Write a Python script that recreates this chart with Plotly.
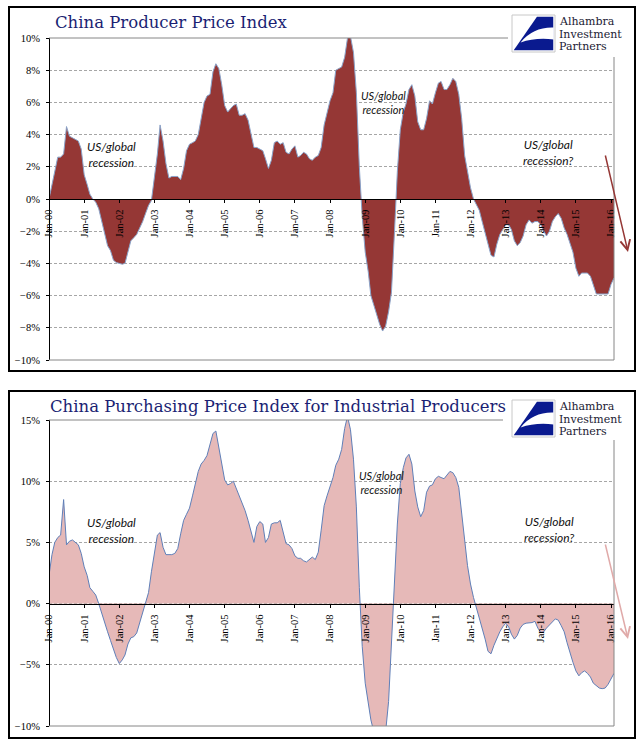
import pandas as pd
import plotly.graph_objects as go

# ---------------- data ----------------
dates = pd.date_range("2000-01-01", periods=194, freq="MS")

ppi_yoy = [
    0.0, 0.9, 1.8, 2.6, 2.6, 2.8, 4.5, 3.9, 3.8, 3.7, 3.6, 3.1,          # 2000
    1.5, 0.9, 0.3, 0.0, -0.2, -0.6, -1.4, -2.2, -2.9, -3.2, -3.8, -3.95,  # 2001
    -4.0, -4.05, -4.0, -3.3, -2.6, -2.4, -2.2, -1.8, -1.4, -0.9, -0.4, -0.1,  # 2002
    1.2, 2.8, 4.6, 3.6, 2.2, 1.3, 1.4, 1.4, 1.4, 1.2, 1.9, 3.0,          # 2003
    3.4, 3.5, 3.6, 4.0, 5.0, 6.0, 6.4, 6.5, 7.9, 8.4, 8.1, 7.1,          # 2004
    5.8, 5.4, 5.6, 5.8, 5.9, 5.2, 5.2, 5.3, 4.9, 4.0, 3.2, 3.2,          # 2005
    3.1, 3.0, 2.5, 1.9, 2.4, 3.5, 3.6, 3.4, 3.5, 2.9, 2.8, 3.1,          # 2006
    3.3, 2.6, 2.7, 2.9, 2.8, 2.5, 2.4, 2.6, 2.7, 3.2, 4.6, 5.4,          # 2007
    6.1, 6.6, 8.0, 8.1, 8.2, 8.8, 10.0, 10.1, 9.1, 6.6, 2.0, -1.1,       # 2008
    -3.3, -4.5, -6.0, -6.6, -7.2, -7.8, -8.2, -7.9, -7.0, -5.8, -2.1, 1.7,  # 2009
    4.3, 5.4, 5.9, 6.8, 7.1, 6.4, 4.8, 4.3, 4.3, 5.0, 6.1, 5.9,          # 2010
    6.6, 7.2, 7.3, 6.8, 6.8, 7.1, 7.5, 7.3, 6.5, 5.0, 2.7, 1.7,          # 2011
    0.7, 0.0, -0.3, -0.7, -1.4, -2.1, -2.9, -3.5, -3.6, -2.8, -2.2, -1.9,  # 2012
    -1.6, -1.6, -1.9, -2.6, -2.9, -2.7, -2.3, -1.6, -1.3, -1.5, -1.4, -1.4,  # 2013
    -1.6, -2.0, -2.3, -2.0, -1.4, -1.1, -0.9, -1.2, -1.8, -2.2, -2.7, -3.3,  # 2014
    -4.3, -4.8, -4.6, -4.6, -4.6, -4.8, -5.4, -5.9, -5.9, -5.9, -5.9, -5.9,  # 2015
    -5.3, -4.9,                                                           # 2016
]

ppirm_yoy = [
    2.3, 4.0, 5.0, 5.4, 5.6, 8.5, 4.8, 5.1, 5.2, 5.0, 4.8, 4.1,          # 2000
    3.0, 2.3, 1.3, 1.0, 0.7, 0.0, -0.8, -1.5, -2.3, -3.0, -3.7, -4.4,    # 2001
    -4.9, -4.6, -4.2, -3.3, -2.8, -2.7, -2.4, -1.6, -0.8, 0.0, 0.9, 2.6,  # 2002
    4.2, 5.6, 5.8, 4.6, 4.0, 4.0, 4.0, 4.1, 4.5, 5.7, 6.8, 7.3,          # 2003
    7.8, 8.8, 9.8, 10.8, 11.4, 11.7, 12.1, 13.0, 13.9, 14.1, 12.8, 11.6,  # 2004
    10.1, 9.7, 9.8, 10.0, 9.4, 8.8, 8.2, 7.6, 6.8, 6.0, 5.0, 6.3,        # 2005
    6.7, 6.5, 5.0, 5.4, 6.5, 6.6, 6.6, 6.8, 5.9, 4.9, 4.8, 4.5,          # 2006
    3.9, 3.7, 3.7, 3.5, 3.4, 3.6, 3.8, 3.6, 4.2, 6.0, 8.0, 8.8,          # 2007
    9.5, 10.3, 11.3, 11.8, 12.6, 14.3, 15.3, 14.2, 11.8, 7.9, 1.3, -3.5,  # 2008
    -6.5, -8.0, -9.5, -10.5, -11.3, -11.9, -11.5, -10.5, -8.0, -3.0, 2.0, 6.5,  # 2009
    9.8, 11.1, 11.9, 12.2, 11.4, 9.2, 7.9, 7.1, 7.6, 9.1, 9.6, 9.7,      # 2010
    10.2, 10.4, 10.3, 10.2, 10.5, 10.8, 10.7, 10.3, 9.5, 7.1, 5.2, 3.1,  # 2011
    1.6, 0.5, -0.3, -1.1, -2.0, -2.9, -3.9, -4.1, -3.4, -2.8, -2.3, -1.9,  # 2012
    -1.6, -1.9, -2.5, -2.9, -2.6, -2.0, -1.7, -1.6, -1.6, -1.55, -1.45, -2.0,  # 2013
    -2.35, -2.3, -2.0, -1.7, -1.5, -1.25, -1.35, -1.8, -2.3, -3.2, -4.1, -4.8,  # 2014
    -5.5, -5.9, -5.65, -5.5, -5.7, -6.0, -6.5, -6.7, -6.9, -6.95, -6.9, -6.6,  # 2015
    -6.1, -5.7,                                                           # 2016
]

title_top = "China Producer Price Index"
title_bottom = "China Purchasing Price Index for Industrial Producers"
recession_label = "US/global<br>recession"
recession_q_label = "US/global<br>recession?"
logo_lines = ["Alhambra", "Investment", "Partners"]

# ---------------- geometry helpers (pixel -> paper) ----------------
W, H = 641, 750


def px(x):
    return x / W


def py(y):
    return 1 - y / H


def path(points):
    s = ""
    for cmd, pts in points:
        s += cmd
        for (x, y) in pts:
            s += f"{px(x):.5f},{py(y):.5f} "
    return s


NAVY = "#1b1f73"
LOGO_BLUE = "#0a1a8f"
GRID = "#a6a6a6"
BORDER = "#868686"
TICKFONT = dict(family="Liberation Serif", size=10.5, color="#000000")

fig = go.Figure()
fig.add_trace(go.Scatter(
    x=dates, y=ppi_yoy, mode="lines", fill="tozeroy",
    fillcolor="#953735", line=dict(color="#8aa3c9", width=1),
    xaxis="x", yaxis="y", showlegend=False, hoverinfo="skip"))
fig.add_trace(go.Scatter(
    x=dates, y=ppirm_yoy, mode="lines", fill="tozeroy",
    fillcolor="#e6b9b8", line=dict(color="#5f7fb8", width=1),
    xaxis="x2", yaxis="y2", showlegend=False, hoverinfo="skip"))

xcommon = dict(
    range=["2000-01-01", "2016-02-01"], tick0="2000-01-01", dtick="M12",
    tickformat="%b-%y", tickangle=-90, tickfont=TICKFONT,
    ticks="outside", ticklen=3, tickcolor="#000000", ticklabelstandoff=2,
    showline=True, linecolor="#000000", linewidth=1.2,
    showgrid=False, zeroline=False, anchor="free", automargin=False,
)
ycommon = dict(
    ticksuffix="%", tickfont=TICKFONT, ticks="outside", ticklen=3,
    tickcolor="#000000", ticklabelstandoff=4,
    showline=True, linecolor="#000000", linewidth=1.2,
    showgrid=True, gridcolor=GRID, gridwidth=1, griddash="3px,2px",
    zeroline=False, automargin=False,
)

fig.update_layout(
    width=W, height=H, autosize=False,
    margin=dict(l=0, r=0, t=0, b=0),
    paper_bgcolor="white", plot_bgcolor="white",
    xaxis=dict(xcommon, domain=[px(49), px(614)], position=py(199)),
    yaxis=dict(ycommon, domain=[py(360), py(38)], range=[-10, 10], dtick=2,
               anchor="free", position=px(49)),
    xaxis2=dict(xcommon, domain=[px(49), px(614)], position=py(604)),
    yaxis2=dict(ycommon, domain=[py(726), py(420)], range=[-10, 15], dtick=5,
                anchor="free", position=px(49)),
)

shapes = []
ann = []

panels = [
    dict(top=7, bottom=371, ptop=38, pbot=360, title=title_top, tx=53, ty=23,
         logo=15, border_end=508, right_start=57,
         arrow=((605, 154), (628, 252)), acol="#953735",
         labels=[(111, 154, recession_label, 12), (383, 102, recession_label, 11),
                 (548, 153, recession_q_label, 12)]),
    dict(top=391, bottom=738, ptop=420, pbot=726, title=title_bottom, tx=48, ty=406,
         logo=400, border_end=503, right_start=440,
         arrow=((605, 543), (628, 639)), acol="#e0aaa9",
         labels=[(111, 530, recession_label, 12), (381, 482, recession_label, 11),
                 (549, 529, recession_q_label, 12)]),
]

for p in panels:
    # outer panel frame
    shapes.append(dict(type="rect", xref="paper", yref="paper",
                       x0=px(9), x1=px(635), y0=py(p["bottom"]), y1=py(p["top"]),
                       line=dict(color="#000000", width=2), layer="above"))
    # logo white background
    shapes.append(dict(type="rect", xref="paper", yref="paper",
                       x0=px(p["border_end"] + 1), x1=px(633),
                       y0=py(p["right_start"] - 1), y1=py(p["top"] + 2),
                       line=dict(width=0), fillcolor="white", layer="above"))
    # plot area borders (top, right, bottom)
    shapes.append(dict(type="line", xref="paper", yref="paper",
                       x0=px(49), x1=px(p["border_end"]), y0=py(p["ptop"]), y1=py(p["ptop"]),
                       line=dict(color=BORDER, width=1), layer="above"))
    shapes.append(dict(type="line", xref="paper", yref="paper",
                       x0=px(614), x1=px(614), y0=py(p["right_start"]), y1=py(p["pbot"]),
                       line=dict(color=BORDER, width=1), layer="above"))
    shapes.append(dict(type="line", xref="paper", yref="paper",
                       x0=px(49), x1=px(614), y0=py(p["pbot"]), y1=py(p["pbot"]),
                       line=dict(color=BORDER, width=1), layer="above"))
    # logo graphic
    lx0, ly0, lw, lh = 512, p["logo"], 43, 37

    def L(u, v):
        return (lx0 + u * lw, ly0 + v * lh)

    shapes.append(dict(type="rect", xref="paper", yref="paper",
                       x0=px(lx0), x1=px(lx0 + lw), y0=py(ly0 + lh), y1=py(ly0),
                       line=dict(color="#c8c8c8", width=1), fillcolor="white", layer="above"))
    shapes.append(dict(type="path", xref="paper", yref="paper",
                       path=path([("M", [L(0.58, 0.05)]), ("L", [L(0.96, 0.05)]),
                                  ("L", [L(0.96, 0.95)]), ("L", [L(0.04, 0.95)])]) + "Z",
                       line=dict(width=0), fillcolor=LOGO_BLUE, layer="above"))
    shapes.append(dict(type="path", xref="paper", yref="paper",
                       path=path([("M", [L(0.2, 0.74)]), ("Q", [L(0.5, 0.32), L(0.97, 0.34)]),
                                  ("L", [L(0.97, 0.66)]), ("Q", [L(0.55, 0.6), L(0.2, 0.74)])]) + "Z",
                       line=dict(width=0), fillcolor="white", layer="above"))
    # logo text
    for i, t in enumerate(logo_lines):
        ann.append(dict(xref="paper", yref="paper", x=px(557), y=py(ly0 + 6 + i * 13),
                        text=t, showarrow=False, xanchor="left", yanchor="middle",
                        font=dict(family="DejaVu Serif", size=11, color="#1a1a33")))
    # title
    ann.append(dict(xref="paper", yref="paper", x=px(p["tx"]), y=py(p["ty"]),
                    text=p["title"], showarrow=False, xanchor="left", yanchor="middle",
                    font=dict(family="DejaVu Serif", size=16.5, color=NAVY)))
    # recession labels
    for (x, y, t, s) in p["labels"]:
        ann.append(dict(xref="paper", yref="paper", x=px(x), y=py(y), text=t,
                        showarrow=False, xanchor="center", yanchor="middle", align="center",
                        font=dict(family="Lato", size=s, color="#111111", style="italic")))
    # arrow
    (tx, ty), (hx, hy) = p["arrow"]
    ann.append(dict(xref="paper", yref="paper", x=px(hx), y=py(hy), text="",
                    showarrow=True, ax=tx - hx, ay=ty - hy, axref="pixel", ayref="pixel",
                    arrowcolor=p["acol"], arrowwidth=1.5, arrowhead=5, arrowsize=1.3))

fig.update_layout(shapes=shapes, annotations=ann)
fig.write_html(
    "out.html",
    config={"displayModeBar": False, "staticPlot": True},
    post_script="document.body.style.margin='0';document.body.style.overflow='hidden';",
)
